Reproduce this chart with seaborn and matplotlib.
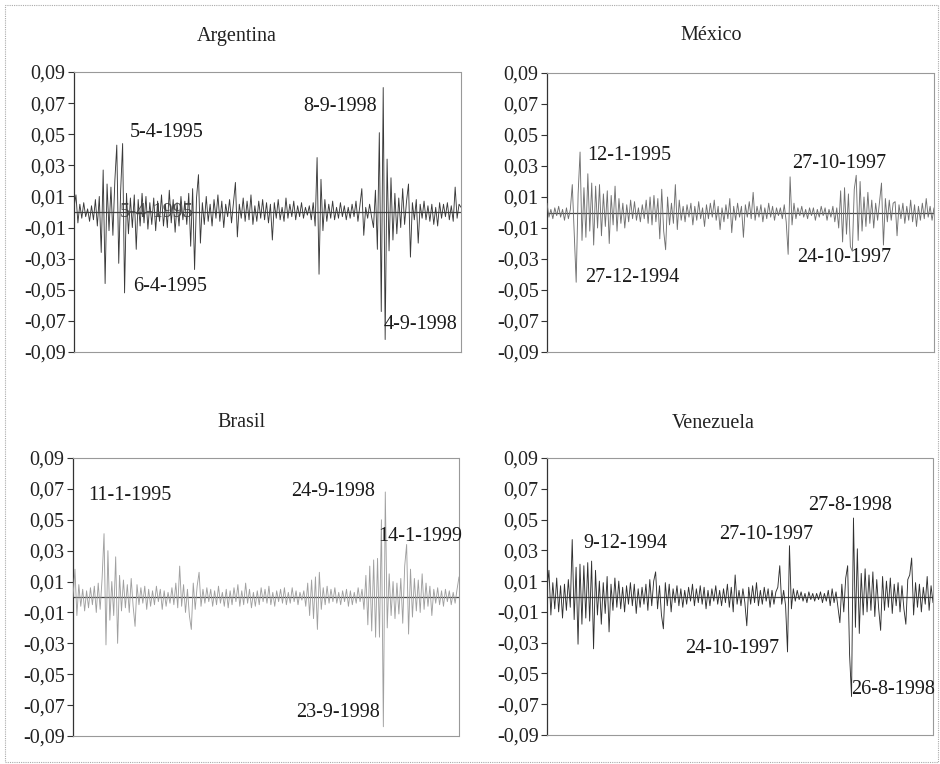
import numpy as np
import pandas as pd
import seaborn as sns
import matplotlib.pyplot as plt
from matplotlib.patches import Rectangle

# daily returns (units of 0.001)
arg_ret = [3, 11, -7, 5, -4, 6, -3, 2, -6, 4,
           -5, 8, -9, 10, -26, 27, -46, 18, -12, 16,
           -15, 20, 43, -33, 14, 44, -52, 12, -14, 9,
           -10, 11, -24, 8, -9, 12, -7, 10, -11, 6,
           -8, 9, -12, 7, -6, 11, -9, 5, -10, 14,
           -7, 8, -13, 6, -9, 10, -5, 7, -8, 12,
           -22, 15, -37, 9, 24, -20, 6, -8, 10, -6,
           5, -9, 8, -4, 11, -6, 7, -10, 5, -3,
           8, -7, 6, 19, -16, 5, -4, 9, -6, 7,
           -5, 11, -8, 4, -6, 7, -4, 8, -5, 6,
           -7, 5, -18, 6, -4, 8, -5, 3, -6, 9,
           -4, 5, -3, 7, -5, 4, -3, 6, -4, 3,
           -2, 4, -5, 6, -9, 35, -40, 21, -12, 8,
           -6, 5, -4, 7, -5, 3, -4, 6, -3, 4,
           -5, 3, -4, 5, -3, 7, -6, 4, 15, -15,
           3, -4, 5, -3, -10, 14, -24, 51, -64, 80,
           -82, 34, -25, 22, -18, 12, -14, 9, -10, 15,
           -8, 7, 18, -29, 6, -5, 8, -20, 5, -4,
           7, -5, 4, -6, 5, -8, 3, -9, 6, -4,
           5, -3, 6, -5, 4, -6, 16, -4, 5, 3]

mex_ret = [6, -3, 2, -4, 3, -2, 4, -3, 2, -5,
           3, -4, 2, 18, -14, -45, 12, 39, -18, 16,
           -16, 25, -12, 19, -21, 17, -10, 18, -15, 12,
           -9, 14, -20, 11, -8, 17, -12, 9, -7, 6,
           -10, 5, -6, 8, -4, 7, -5, 3, -6, 5,
           -4, 8, -7, 10, -8, 11, -6, 9, -17, 15,
           -12, -24, 10, -8, 6, -7, 18, -11, 8, -5,
           4, -6, 5, -3, 6, -8, 4, -5, 7, -4,
           3, -9, 5, -4, 6, -3, 8, -5, 4, -11,
           3, -6, 5, -4, 9, -13, 4, -5, 6, -3,
           4, -16, 5, -3, 7, -4, 13, -5, 4, -3,
           5, -6, 3, -4, 6, -3, 4, -5, 3, -2,
           3, -4, 5, -6, -27, 23, -8, 6, -4, 3,
           -2, 4, -3, 2, -4, 3, -2, 3, -5, 2,
           -3, 4, -2, 3, -5, 2, -3, 4, -6, 3,
           -10, 14, -19, 16, -14, 12, -22, -25, 15, 24,
           -18, 20, -12, 10, -9, 13, -7, 8, -10, 6,
           -5, 7, 19, -21, 9, -6, 8, -5, 6, 7,
           -15, 5, -4, 6, -7, 4, -5, 8, -6, 5,
           -9, 4, -5, 6, -4, 9, -3, 4, -5, 3]

bra_ret = [0, 18, -12, 8, -6, 5, -9, 4, -7, 6,
           -5, 7, -10, 9, -8, 12, 41, -31, 30, -15,
           10, -12, 26, -30, 14, -9, 11, -7, 8, -10,
           12, -6, -19, 8, -5, 6, -4, 7, -8, 5,
           -6, 4, -5, 7, -3, 5, -8, 4, -6, 3,
           -4, 6, -5, 9, -7, 20, -6, 8, -10, 5,
           -12, -21, 9, -8, 7, 16, -6, 5, -4, 6,
           -3, 5, -6, 4, -5, 7, -4, 3, -6, 5,
           -7, 4, -5, 6, -3, 8, -6, 4, -5, 9,
           -4, 5, -7, 3, -6, 4, -5, 6, -3, 5,
           -4, 7, -5, 3, -6, 4, -3, 5, -4, 6,
           -5, 3, -4, 6, -3, 4, -5, 3, -2, 4,
           -6, 9, -12, 11, -14, 13, -21, 16, -8, 6,
           -5, 7, -4, 5, -3, 6, -4, 3, -5, 4,
           -3, 5, -6, 4, -5, 3, -4, 6, -3, 5,
           -8, 14, -18, 20, -22, 24, -26, 25, -26, 50,
           -84, 68, -20, 15, -12, 10, -14, 9, -11, 12,
           -17, 20, 34, -24, 18, -13, 12, -9, 11, -10,
           15, -8, 9, -6, 7, -12, 5, -4, 6, -5,
           4, -6, 5, -3, 4, -5, 3, -4, 5, 13]

ven_ret = [5, 17, -12, 9, -8, 12, -10, 7, -14, 8,
           -9, 11, -7, 37, -15, 19, -31, 21, -18, 20,
           -14, 22, -16, 23, -34, 17, -12, 10, -18, 9,
           -11, 13, -23, 8, -9, 12, -7, 10, -8, 6,
           -10, 7, -5, 9, -6, 8, -11, 5, -7, 6,
           -5, 8, -9, 11, -6, 10, 16, -8, 7, -12,
           -21, 9, -6, 8, -10, 5, -4, 7, -6, 5,
           -7, 4, -5, 6, -3, 8, -6, 5, -4, 7,
           -5, 6, -8, 4, -6, 5, -3, 7, -5, 4,
           -6, 5, -4, 8, -7, 6, -10, 14, -5, 4,
           -6, 5, -4, -19, 6, -5, 7, -4, 9, -6,
           4, -5, 6, -3, 5, -7, 4, -5, 3, 6,
           20, -5, 4, -6, -36, 33, -8, 5, -3, 4,
           -2, 3, -3, 2, -4, 3, -2, 2, -3, 2,
           -2, 3, -4, 2, -3, 4, -6, 5, -4, 3,
           -7, -17, 8, -10, 12, 20, -38, -65, 51, -20,
           31, -24, 15, -12, 18, -10, 14, -9, 16, -13,
           11, -8, -22, 13, -9, 10, -7, 12, -11, 8,
           -6, 9, -10, 7, -8, -18, 11, 14, 25, -12,
           9, -7, 8, -10, 6, -5, 13, -9, 7, -4]

countries = ['Argentina', 'México', 'Brasil', 'Venezuela']
returns = [arg_ret, mex_ret, bra_ret, ven_ret]
line_colors = ['#3a3a3a', '#707070', '#a0a0a0', '#303030']

y_ticks = [-0.09, -0.07, -0.05, -0.03, -0.01, 0.01, 0.03, 0.05, 0.07, 0.09]
y_tick_labels = ['-0,09', '-0,07', '-0,05', '-0,03', '-0,01',
                 '0,01', '0,03', '0,05', '0,07', '0,09']

# labels: (text, x index, y value, horizontal alignment)
notes = [
    [('5-4-1995', 28.8, 0.0508, 'left'), ('6-4-1995', 30.3, -0.0476, 'left'),
     ('8-9-1998', 155.8, 0.068, 'right'), ('4-9-1998', 159.4, -0.0726, 'left')],
    [('12-1-1995', 20.6, 0.0366, 'left'), ('27-12-1994', 19.5, -0.0418, 'left'),
     ('27-10-1997', 126.0, 0.0315, 'left'), ('24-10-1997', 128.6, -0.029, 'left')],
    [('11-1-1995', 7.7, 0.066, 'left'), ('24-9-1998', 155.7, 0.068, 'right'),
     ('14-1-1999', 157.2, 0.0389, 'left'), ('23-9-1998', 158.3, -0.0745, 'right')],
    [('9-12-1994', 18.6, 0.0344, 'left'), ('27-10-1997', 88.7, 0.0403, 'left'),
     ('27-8-1998', 134.6, 0.059, 'left'), ('24-10-1997', 71.1, -0.0338, 'left'),
     ('26-8-1998', 157.0, -0.0604, 'left')],
]

sns.set_style('white')
plt.rcParams['font.family'] = ['Liberation Serif', 'DejaVu Serif']
plt.rcParams['font.size'] = 14.5

fig = plt.figure(figsize=(9.4, 7.64), dpi=100)

# axes boxes in pixels: left, top, width, height
boxes = [(74, 72, 387, 280), (547, 73, 387, 279),
         (73, 458, 386, 278), (547, 458, 386, 277)]
title_pos = [(237, 37), (711, 35), (241, 422), (713, 424)]

for k, name in enumerate(countries):
    l, t, w, h = boxes[k]
    ax = fig.add_axes([l / 940, 1 - (t + h) / 764, w / 940, h / 764])
    df = pd.DataFrame({'day': np.arange(len(returns[k])),
                       'ret': np.array(returns[k]) / 1000})
    ax.axhline(0, color='#444444', lw=0.9, zorder=1)
    sns.lineplot(data=df, x='day', y='ret', ax=ax, color=line_colors[k],
                 lw=0.65, estimator=None, zorder=3)
    ax.set_xlim(0, len(returns[k]) - 1)
    ax.set_ylim(-0.09, 0.09)
    ax.set_xticks([])
    ax.set_yticks(y_ticks)
    ax.set_yticklabels(y_tick_labels)
    ax.tick_params(axis='y', left=True, length=4, width=0.8, color='#333333',
                   pad=2, labelsize=14.5, labelcolor='#222222')
    ax.set_xlabel('')
    ax.set_ylabel('')
    for side in ['top', 'right', 'bottom']:
        ax.spines[side].set_linestyle((0, (1, 1)))
        ax.spines[side].set_color('#999999')
        ax.spines[side].set_linewidth(0.8)
    ax.spines['left'].set_color('#333333')
    ax.spines['left'].set_linewidth(0.9)

    for txt, xi, yv, ha in notes[k]:
        ax.text(xi, yv, txt, ha=ha, va='center', fontsize=14.5,
                color='#1a1a1a', zorder=5)
    if k == 0:
        # label hidden under the series near zero
        ax.text(23.7, -0.0004, '5-4-1995', ha='left', va='center',
                fontsize=14.5, color='#555555', zorder=2)

    fig.text(title_pos[k][0] / 940, 1 - title_pos[k][1] / 764, name,
             ha='center', va='center', fontsize=14.5, color='#222222')

# dotted frame around the whole chart
fig.patches.append(Rectangle((5 / 940, 2 / 764), 933 / 940, 757 / 764,
                             transform=fig.transFigure, fill=False,
                             ls=(0, (1, 1)), lw=0.8, ec='#aaaaaa'))

fig.savefig('out.png', dpi=100)
